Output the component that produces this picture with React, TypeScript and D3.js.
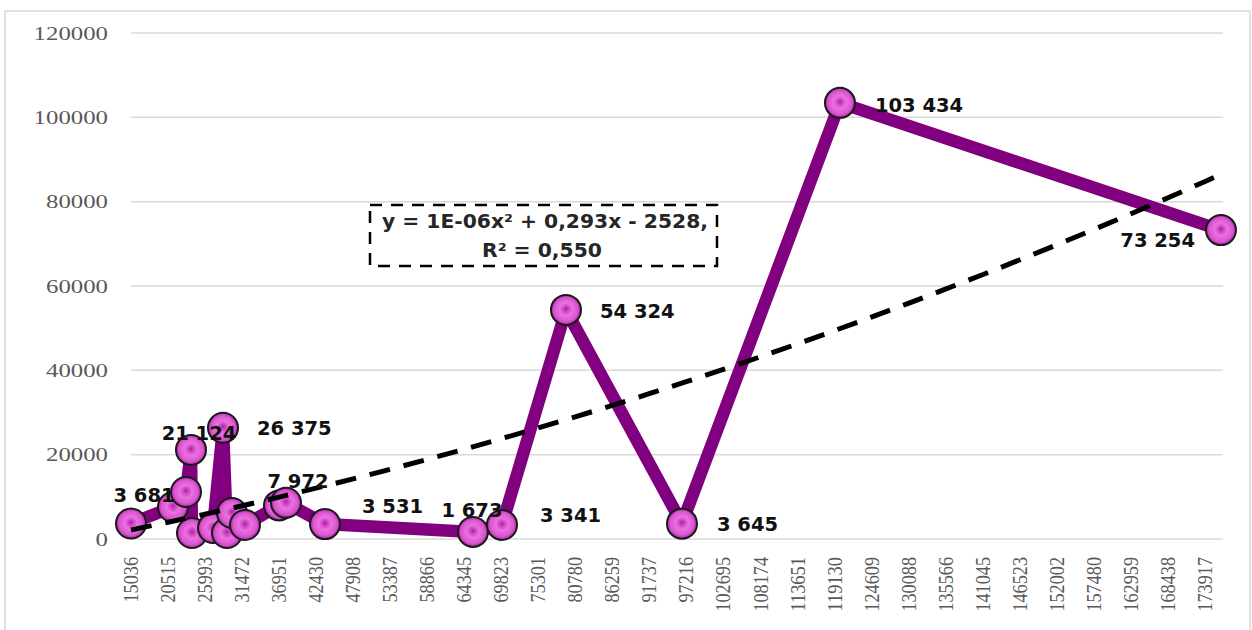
import React from 'react';
import * as d3 from 'd3';

// x values, y values of the purple series
const xValues = [15036, 21252, 23176, 23916, 24064, 27172, 28652, 29243, 29983, 31907, 36939, 37975, 43747, 65650, 69942, 79414, 96581, 119964, 176355];
const yValues = [3681, 7590, 11150, 21124, 1420, 2600, 26375, 1420, 6170, 3320, 7972, 8600, 3531, 1673, 3341, 54324, 3645, 103434, 73254];

const xTickLabels = ['15036', '20515', '25993', '31472', '36951', '42430', '47908', '53387', '58866', '64345', '69823', '75301', '80780', '86259', '91737', '97216', '102695', '108174', '113651', '119130', '124609', '130088', '135566', '141045', '146523', '152002', '157480', '162959', '168438', '173917'];
const yTicks = [0, 20000, 40000, 60000, 80000, 100000, 120000];

// polynomial trend line y = a x^2 + b x + c (as shown in the box)
const trendCoef = [1.2e-6, 0.293, -2528];
const equationLines = ['y = 1E-06x² + 0,293x - 2528,', 'R² = 0,550'];

// which points carry a label, and where the label sits relative to the marker
const labelSpecs = [
  { i: 0, dx: 13, dy: -21, anchor: 'middle' },
  { i: 3, dx: 8, dy: -10, anchor: 'middle' },
  { i: 6, dx: 34, dy: 7, anchor: 'start' },
  { i: 10, dx: 19, dy: -17, anchor: 'middle' },
  { i: 12, dx: 37, dy: -11, anchor: 'start' },
  { i: 13, dx: -1, dy: -15, anchor: 'middle' },
  { i: 14, dx: 38, dy: -3, anchor: 'start' },
  { i: 15, dx: 34, dy: 8, anchor: 'start' },
  { i: 16, dx: 35, dy: 7, anchor: 'start' },
  { i: 17, dx: 35, dy: 9, anchor: 'start' },
  { i: 18, dx: -26, dy: 17, anchor: 'end' },
];

const W = 1252;
const H = 630;

const fmt = (v: number) => String(v).replace(/\B(?=(\d{3})+(?!\d))/g, ' ');

export default function App() {
  const x = d3.scaleLinear().domain([15036, 176655]).range([131, 1223]);
  const y = d3.scaleLinear().domain([0, 120000]).range([539, 33]);

  const pts = xValues.map((v, i) => ({ x: v, y: yValues[i] }));
  const line = d3.line<{ x: number; y: number }>()
    .x(d => x(d.x))
    .y(d => y(d.y));

  const trendX = [...xTickLabels.map(Number), x.domain()[1]];
  const trendPts = trendX.map(v => ({ x: v, y: trendCoef[0] * v * v + trendCoef[1] * v + trendCoef[2] }));
  const trendLine = d3.line<{ x: number; y: number }>()
    .x(d => x(d.x))
    .y(d => y(d.y))
    .curve(d3.curveMonotoneX);

  return (
    <div style={{ position: 'fixed', left: 0, top: 0 }}>
      <svg width={W} height={H} style={{ display: 'block', background: '#fff' }}>
        <defs>
          <radialGradient id="ball" cx="50%" cy="50%" r="52%" fx="50%" fy="46%">
            <stop offset="0%" stopColor="#a81c96" />
            <stop offset="12%" stopColor="#c93abd" />
            <stop offset="40%" stopColor="#e872df" />
            <stop offset="75%" stopColor="#dc55d2" />
            <stop offset="100%" stopColor="#a5229a" />
          </radialGradient>
        </defs>

        <rect x={5} y={11} width={1245} height={640} fill="#fff" stroke="#d9d9d9" strokeWidth={1.5} />

        {/* gridlines and y labels */}
        {yTicks.map(t => (
          <g key={t}>
            <line x1={131} x2={1223} y1={y(t)} y2={y(t)} stroke="#d9d9d9" strokeWidth={1.5} />
            <text
              x={108}
              y={y(t)}
              dy="0.35em"
              textAnchor="end"
              fontFamily="Liberation Serif, serif"
              fontSize={19}
              fill="#595959"
              textLength={String(t).length * 12.4}
              lengthAdjust="spacingAndGlyphs"
            >
              {t}
            </text>
          </g>
        ))}

        {/* x labels */}
        {xTickLabels.map(l => (
          <text
            key={l}
            transform={`translate(${x(Number(l))},557) rotate(-90)`}
            dy="0.36em"
            textAnchor="end"
            fontFamily="Liberation Serif, serif"
            fontSize={20}
            fill="#595959"
            textLength={l.length * 9.1}
            lengthAdjust="spacingAndGlyphs"
          >
            {l}
          </text>
        ))}

        {/* series */}
        <path d={line(pts) || ''} fill="none" stroke="#800080" strokeWidth={12.5} strokeLinejoin="round" />
        {pts.map((p, i) => (
          <circle key={i} cx={x(p.x)} cy={y(p.y)} r={15} fill="url(#ball)" stroke="#1a1a1a" strokeWidth={2} />
        ))}

        {/* trend line */}
        <path
          d={trendLine(trendPts) || ''}
          fill="none"
          stroke="#000"
          strokeWidth={5}
          strokeDasharray="21 14"
        />

        {/* data labels */}
        {labelSpecs.map(s => (
          <text
            key={s.i}
            x={x(xValues[s.i]) + s.dx}
            y={y(yValues[s.i]) + s.dy}
            textAnchor={s.anchor as any}
            fontFamily="DejaVu Sans, sans-serif"
            fontWeight="bold"
            fontSize={19.5}
            fill="#111"
          >
            {fmt(yValues[s.i])}
          </text>
        ))}

        {/* equation box */}
        <rect x={370} y={205} width={347} height={61} fill="#fff" stroke="#000" strokeWidth={2.5} strokeDasharray="12 9" />
        <text x={545} y={228} textAnchor="middle" fontFamily="DejaVu Sans, sans-serif" fontWeight="bold" fontSize={19} fill="#262626" textLength={326} lengthAdjust="spacingAndGlyphs">
          {equationLines[0]}
        </text>
        <text x={542} y={257} textAnchor="middle" fontFamily="DejaVu Sans, sans-serif" fontWeight="bold" fontSize={19} fill="#262626" textLength={120} lengthAdjust="spacingAndGlyphs">
          {equationLines[1]}
        </text>
      </svg>
    </div>
  );
}
